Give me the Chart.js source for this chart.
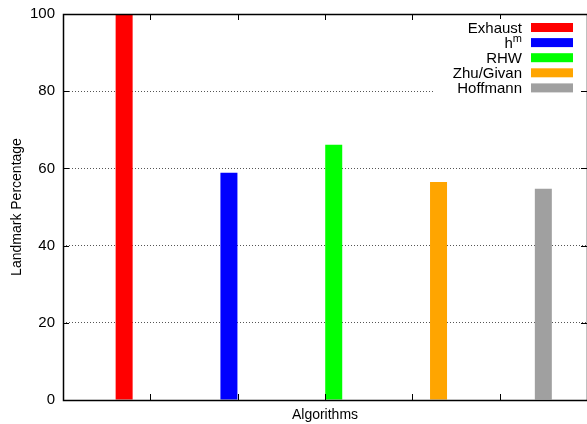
<!DOCTYPE html>
<html>
<head>
<meta charset="utf-8">
<script src="https://cdn.jsdelivr.net/npm/chart.js@4/dist/chart.umd.min.js"></script>
<style>
  html, body { margin: 0; padding: 0; background: #fff; overflow: hidden; }
</style>
</head>
<body>
<canvas id="chart" width="587" height="424"></canvas>
<script>
var algorithms = ['Exhaust', 'h^m', 'RHW', 'Zhu/Givan', 'Hoffmann'];
var landmarkPct = [100, 58.9, 66.1, 56.5, 54.7];
var barColors = ['#ff0000', '#0000ff', '#00ff00', '#ffa500', '#a0a0a0'];
var yTicks = [0, 20, 40, 60, 80, 100];
var xTicks = [0, 1, 2, 3, 4, 5, 6];

var FONT = '"Liberation Sans", Arial, sans-serif';

// gnuplot-like layout: bars start at 0.7 and sit 1.2 apart on a 0..6 axis
function barPos(i) { return 0.7 + 1.2 * i; }

var datasets = algorithms.map(function (name, i) {
  return {
    label: name,
    data: [{ x: barPos(i), y: landmarkPct[i] }],
    backgroundColor: barColors[i],
    borderWidth: 0,
    grouped: false,
    maxBarThickness: 17
  };
});

var framePlugin = {
  id: 'frame',
  afterDatasetsDraw: function (chart) {
    var ctx = chart.ctx;
    var a = chart.chartArea;
    var xs = chart.scales.x, ys = chart.scales.y;
    ctx.save();
    ctx.strokeStyle = '#000';
    ctx.lineWidth = 1;
    ctx.beginPath();
    yTicks.forEach(function (v) {
      var y = Math.round(ys.getPixelForValue(v)) + 0.5;
      ctx.moveTo(a.left, y); ctx.lineTo(a.left + 6, y);
      ctx.moveTo(a.right, y); ctx.lineTo(a.right - 6, y);
    });
    xTicks.forEach(function (v) {
      var x = Math.round(xs.getPixelForValue(v)) + 0.5;
      ctx.moveTo(x, a.bottom); ctx.lineTo(x, a.bottom - 6);
      ctx.moveTo(x, a.top); ctx.lineTo(x, a.top + 6);
    });
    ctx.stroke();

    ctx.lineWidth = 1.5;
    ctx.strokeRect(Math.round(a.left) + 0.5, Math.round(a.top) + 0.5,
      Math.round(a.right - a.left), Math.round(a.bottom - a.top));

    // opaque key in the top right corner
    ctx.fillStyle = '#fff';
    ctx.fillRect(a.right - 154, a.top + 5, 148, 77);

    var textRight = a.right - 65;
    chart.data.datasets.forEach(function (ds, i) {
      var cy = a.top + 13.5 + 15.1 * i;
      ctx.fillStyle = ds.backgroundColor;
      ctx.fillRect(a.right - 56, cy - 4.5, 42, 9);

      ctx.fillStyle = '#000';
      ctx.textBaseline = 'alphabetic';
      var parts = ds.label.split('^');
      if (parts.length > 1) {
        ctx.font = '11px ' + FONT;
        var wSup = ctx.measureText(parts[1]).width;
        ctx.textAlign = 'right';
        ctx.fillText(parts[1], textRight, cy - 1);
        ctx.font = '15px ' + FONT;
        ctx.fillText(parts[0], textRight - wSup, cy + 5);
      } else {
        ctx.font = '15px ' + FONT;
        ctx.textAlign = 'right';
        ctx.fillText(ds.label, textRight, cy + 5);
      }
    });
    ctx.restore();
  }
};

new Chart(document.getElementById('chart'), {
  type: 'bar',
  data: { datasets: datasets },
  options: {
    responsive: false,
    animation: false,
    layout: { padding: { top: 14, right: 0, left: 0, bottom: 0 } },
    plugins: {
      legend: { display: false },
      tooltip: { enabled: false }
    },
    scales: {
      x: {
        type: 'linear',
        offset: false,
        min: 0,
        max: 6,
        ticks: { display: false, stepSize: 1 },
        grid: { display: false, drawTicks: false, offset: false },
        border: { display: false },
        title: {
          display: true,
          text: 'Algorithms',
          color: '#000',
          font: { family: FONT, size: 14 },
          padding: { top: 0, bottom: 0 }
        },
        afterFit: function (s) { s.height = 24; s.paddingLeft = 0; s.paddingRight = 0; }
      },
      y: {
        min: 0,
        max: 100,
        ticks: {
          stepSize: 20,
          padding: 8,
          color: '#000',
          font: { family: FONT, size: 15 }
        },
        grid: {
          drawTicks: false,
          lineWidth: 1,
          color: function (c) {
            var v = c.tick ? c.tick.value : null;
            return (v === 0 || v === 100) ? 'rgba(0,0,0,0)' : '#555';
          }
        },
        border: { display: false, dash: [1, 2] },
        title: {
          display: true,
          text: 'Landmark Percentage',
          color: '#000',
          font: { family: FONT, size: 14 },
          padding: { top: 9, bottom: 0 }
        },
        afterFit: function (s) { s.width = 63; s.paddingTop = 0; s.paddingBottom = 0; }
      }
    }
  },
  plugins: [framePlugin]
});
</script>
</body>
</html>
